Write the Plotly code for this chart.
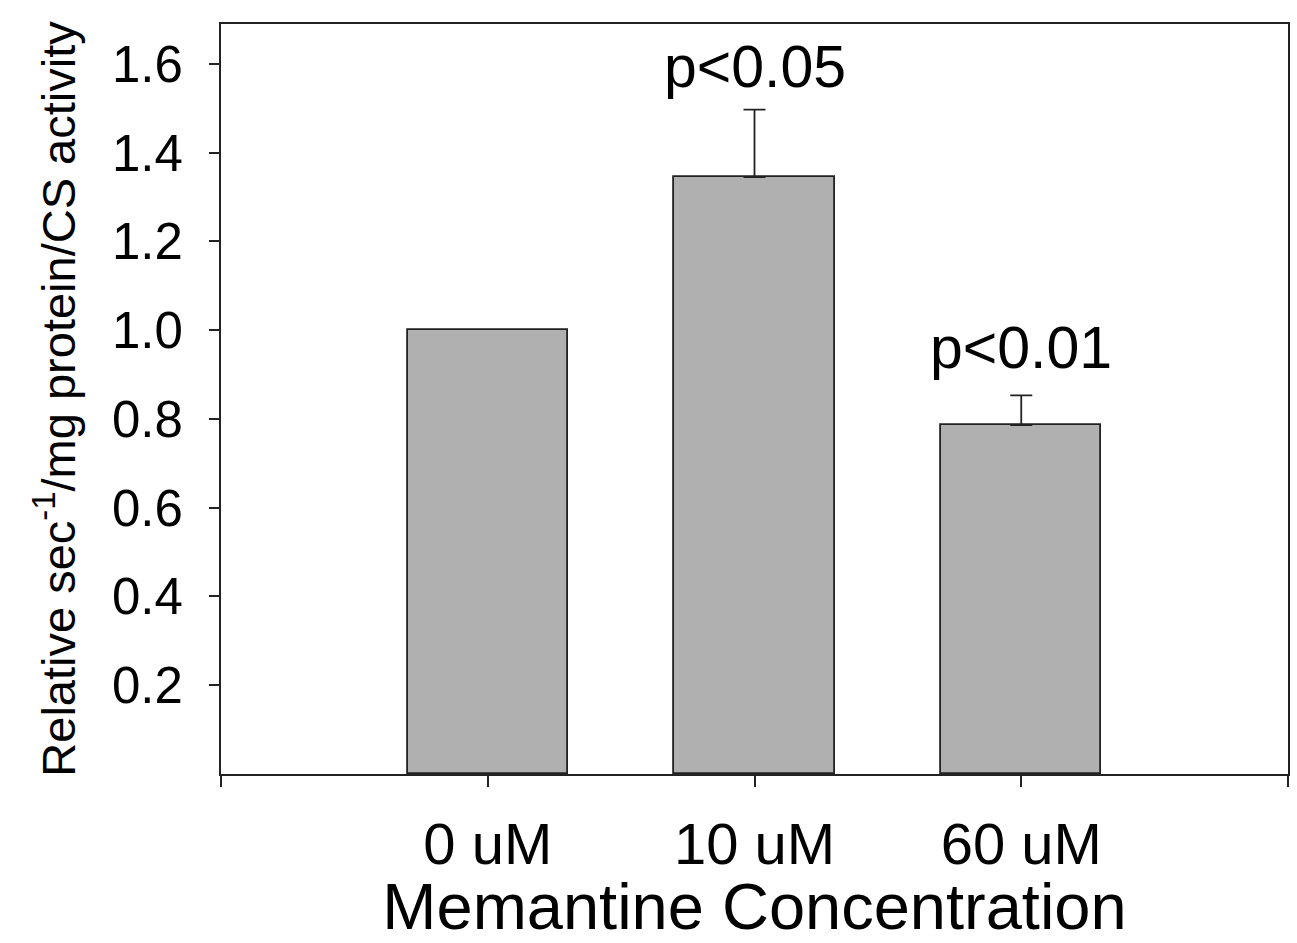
import plotly.graph_objects as go

# Memantine treatment groups and relative activity (normalised to control)
categories = ["0 uM", "10 uM", "60 uM"]
activity = [1.0, 1.345, 0.786]
err_upper = [0.0, 0.152, 0.067]
p_labels = ["", "p<0.05", "p<0.01"]
y_ticks = [0.2, 0.4, 0.6, 0.8, 1.0, 1.2, 1.4, 1.6]

FONT = "Liberation Sans, Arial, Helvetica, sans-serif"
INK = "#222222"

# bars sit at integer slots 1..n, with an empty slot on each side
xpos = list(range(1, len(categories) + 1))

fig = go.Figure()
fig.add_trace(go.Bar(
    x=xpos,
    y=activity,
    width=0.6,
    marker=dict(color="#b0b0b0", line=dict(color=INK, width=1.8)),
    showlegend=False,
    hoverinfo="skip",
))

# upper error bars only for the treated groups
ex = [x for x, e in zip(xpos, err_upper) if e > 0]
ey = [v for v, e in zip(activity, err_upper) if e > 0]
ee = [e for e in err_upper if e > 0]
fig.add_trace(go.Scatter(
    x=ex, y=ey, mode="markers",
    marker=dict(size=1, opacity=0),
    error_y=dict(
        type="data", symmetric=False,
        array=ee, arrayminus=[0] * len(ee),
        color=INK, thickness=1.8, width=11,
    ),
    showlegend=False,
    hoverinfo="skip",
))

# significance labels above the error bars
shifts = [0, 8, 12]
for x, v, e, lab, s in zip(xpos, activity, err_upper, p_labels, shifts):
    if lab:
        fig.add_annotation(
            x=x, y=v + e, xref="x", yref="y",
            text=lab, showarrow=False,
            yanchor="bottom", yshift=s,
            font=dict(family=FONT, size=59, color="black"),
        )

fig.update_layout(
    width=1297, height=943,
    margin=dict(l=221, r=7, t=24, b=169),
    paper_bgcolor="white",
    plot_bgcolor="white",
    font=dict(family=FONT, color="black"),
    bargap=0,
)

fig.update_xaxes(
    range=[0, len(categories) + 1],
    tickmode="array",
    tickvals=xpos,
    ticktext=categories,
    ticks="outside", ticklen=11, tickwidth=1.6, tickcolor=INK,
    minor=dict(tick0=0, dtick=1, ticks="outside", ticklen=11,
               tickwidth=1.6, tickcolor=INK, showgrid=False),
    tickfont=dict(family=FONT, size=58, color="black"),
    ticklabelstandoff=7,
    showline=True, linecolor=INK, linewidth=1.8, mirror=True,
    showgrid=False, zeroline=False,
    title=dict(text="Memantine Concentration",
               font=dict(family=FONT, size=65, color="black"),
               standoff=5),
)

fig.update_yaxes(
    range=[0, 1.69],
    tickmode="array",
    tickvals=y_ticks,
    ticktext=[f"{v:.1f}" for v in y_ticks],
    ticks="outside", ticklen=10, tickwidth=1.6, tickcolor=INK,
    tickfont=dict(family=FONT, size=51, color="black"),
    ticklabelstandoff=16,
    showline=True, linecolor=INK, linewidth=1.8, mirror=True,
    showgrid=False, zeroline=False,
    title=dict(text="Relative sec<sup>-1</sup>/mg protein/CS activity",
               font=dict(family=FONT, size=47, color="black"),
               standoff=22),
)

fig.write_html("out.html")
